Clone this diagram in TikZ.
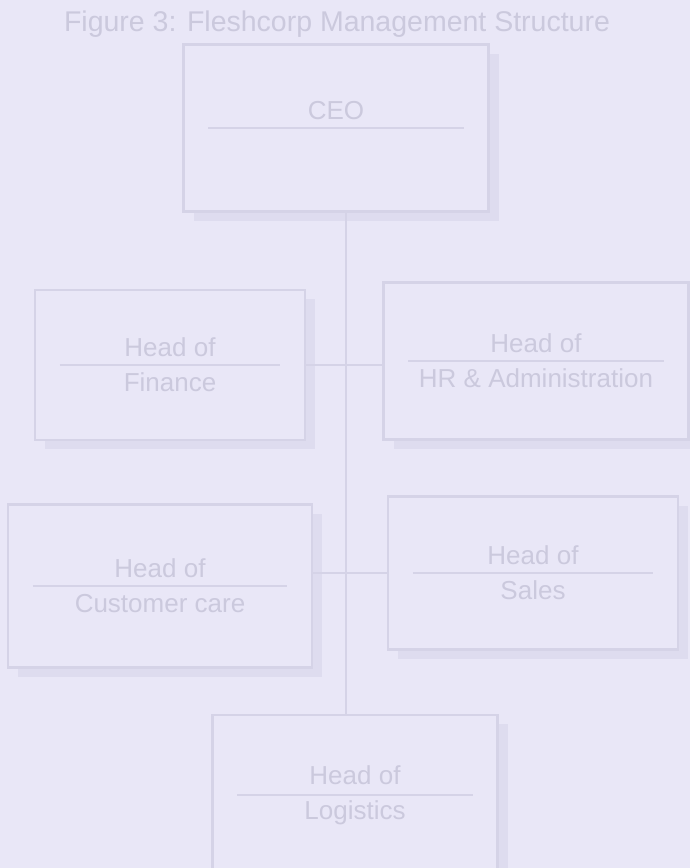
\documentclass[tikz,border=0pt]{standalone}
\usepackage{fontspec}
\setmainfont{Liberation Sans}
\usetikzlibrary{positioning, shadows}
\definecolor{paper}{RGB}{233, 231, 247}
\definecolor{inkline}{RGB}{213, 211, 231}
\definecolor{inktext}{RGB}{203, 201, 221}
\definecolor{inkshade}{RGB}{222, 220, 239}

\begin{document}
\begin{tikzpicture}[x=1pt, y=-1pt,
  unit/.style 2 args={draw=inkline, line width=2.2pt, fill=paper, minimum width=#1, minimum height=#2, align=center, text=inktext, font=\fontsize{26}{35}\selectfont, drop shadow={shadow xshift=10pt, shadow yshift=-9pt, fill=inkshade, opacity=1}},
  rule/.style={draw=inkline, line width=1.6pt},
  link/.style={draw=inkline, line width=2pt},
  caption/.style={text=inktext, font=\fontsize{28.5}{32}\selectfont}
]
  \fill[paper] (0, 0) rectangle (690, 868);
  \useasboundingbox (0, 0) rectangle (690, 868);

  \node[caption] (title) at (337, 24) {Figure 3: Fleshcorp Management Structure};

  % boxes
  \node[unit={305pt}{167pt}] (ceo) at (336, 128) {CEO\\\phantom{CEO}};
  \node[unit={270pt}{150pt}] (fin) at (170, 365) {Head of\\Finance};
  \node[unit={305pt}{157pt}] (hr) at (536, 361) {Head of\\HR \& Administration};
  \node[unit={304pt}{163pt}] (cc) at (160, 586) {Head of\\Customer care};
  \node[unit={290pt}{153pt}] (sal) at (533, 573) {Head of\\Sales};
  \node[unit={285pt}{160pt}] (log) at (355, 795) {Head of\\Logistics};

  \foreach \n in {ceo, fin, hr, cc, sal, log}
    \draw[rule] ([xshift=26pt]\n.west) -- ([xshift=-26pt]\n.east);

  % connectors
  \coordinate (spine) at (346, 230);
  \draw[link] (spine |- ceo.south) -- (spine |- log.north);
  \draw[link] (fin.east) -- (fin.east -| hr.west);
  \draw[link] (sal.west) -- (sal.west -| cc.east);
\end{tikzpicture}
\end{document}
